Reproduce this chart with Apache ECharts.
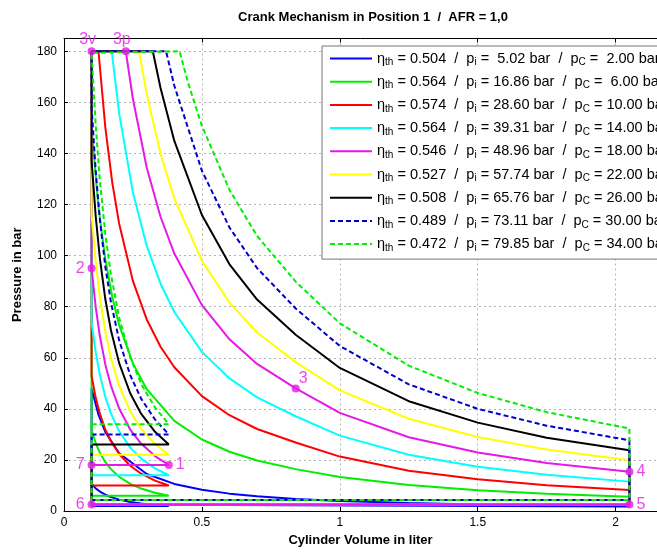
<!DOCTYPE html>
<html><head><meta charset="utf-8">
<script src="https://cdn.jsdelivr.net/npm/echarts@6/dist/echarts.min.js"></script>
<style>html,body{margin:0;padding:0;background:#fff}#c{width:657px;height:552px}</style>
</head><body><div id="c"></div>
<script>
// ---- legend values ----
const etaTh = ['0.504','0.564','0.574','0.564','0.546','0.527','0.508','0.489','0.472'];
const pI    = [' 5.02','16.86','28.60','39.31','48.96','57.74','65.76','73.11','79.85'];
const pCtxt = [' 2.00',' 6.00','10.00','14.00','18.00','22.00','26.00','30.00','34.00'];
const pC    = [2, 6, 10, 14, 18, 22, 26, 30, 34];
const colors = ['#0000ff','#00ee00','#ff0000','#00ffff','#e619e6','#ffff00','#000000','#0000cc','#00ee00'];
const dashed = [false,false,false,false,false,false,false,true,true];

// ---- volumes ----
const vMin = 0.10, vOne = 0.38, vMax = 2.05;

// ---- compression 1 -> 2 (pressure at compV) ----
const compV       = [0.38, 0.33, 0.28, 0.24, 0.20, 0.17, 0.15, 0.13, 0.115, 0.10];
const compBlue    = [2, 2.38, 2.93, 3.55, 4.45, 5.45, 6.37, 7.61, 8.87, 10.6];
const compGreen   = [6, 7.15, 8.78, 10.6, 13.4, 16.4, 19.1, 22.8, 26.6, 31.7];
const compRed     = [10, 11.9, 14.6, 17.7, 22.3, 27.3, 31.8, 38.1, 44.3, 52.8];
const compCyan    = [14, 16.7, 20.5, 24.8, 31.2, 38.2, 44.6, 53.3, 62.1, 73.9];
const compMagenta = [18, 21.5, 26.3, 31.9, 40.1, 49.1, 57.3, 68.5, 79.8, 95.0];
const compYellow  = [22, 26.2, 32.2, 39.0, 49.0, 60.0, 70.1, 83.7, 97.6, 116.1];
const compBlack   = [26, 31.0, 38.0, 46.1, 57.9, 70.9, 82.8, 99.0, 115.3, 137.2];
const compBlueD   = [30, 35.8, 43.9, 53.2, 66.8, 81.8, 95.5, 114.2, 133.0, 158.3];
const compGreenD  = [34, 40.5, 49.7, 60.3, 75.7, 92.7, 108.3, 129.4, 150.8, 179.4];

// ---- combustion + expansion 2 -> 3v -> 3p -> 3 -> 4 ([V, p]) ----
const expBlue    = [[0.1,48],[0.125,37.7],[0.15,30.9],[0.2,22.6],[0.3,14.5],[0.4,10.6],[0.5,8.3],[0.6,6.8],[0.7,5.8],[0.84,4.7],[1.0,3.9],[1.25,3.1],[1.5,2.5],[1.75,2.1],[2.05,1.8]];
const expGreen   = [[0.1,150],[0.125,118.9],[0.15,98.4],[0.175,83.8],[0.2,72.8],[0.25,57.8],[0.3,47.7],[0.4,35.3],[0.5,28.0],[0.6,23.2],[0.7,19.8],[0.84,16.4],[1.0,13.3],[1.25,10.2],[1.5,8.1],[1.75,6.8],[2.05,5.6]];
const expRed     = [[0.1,180],[0.125,180],[0.15,150],[0.175,128.6],[0.2,112.5],[0.25,90],[0.3,75],[0.35,64.3],[0.4,56.3],[0.5,45],[0.6,37.5],[0.7,32.1],[0.84,26.8],[1.0,21.3],[1.25,15.8],[1.5,12.4],[1.75,10.1],[2.05,8.2]];
const expCyan    = [[0.1,180],[0.173,180],[0.2,155.7],[0.25,124.6],[0.3,103.8],[0.35,89.0],[0.4,77.9],[0.5,62.3],[0.6,51.9],[0.7,44.5],[0.84,37.1],[1.0,29.5],[1.25,22.0],[1.5,17.3],[1.75,14.2],[2.05,11.5]];
const expMagenta = [[0.1,180],[0.224,180],[0.25,161.3],[0.3,134.4],[0.35,115.2],[0.4,100.8],[0.5,80.6],[0.6,67.2],[0.7,57.6],[0.84,48.0],[1.0,38.4],[1.25,28.9],[1.5,22.9],[1.75,18.8],[2.05,15.4]];
const expYellow  = [[0.1,180],[0.272,180],[0.3,163.2],[0.35,139.9],[0.4,122.4],[0.5,97.9],[0.6,81.6],[0.7,69.9],[0.84,58.3],[1.0,47.2],[1.25,36.1],[1.5,29.0],[1.75,24.1],[2.05,19.9]];
const expBlack   = [[0.1,180],[0.322,180],[0.35,165.6],[0.4,144.9],[0.5,115.9],[0.6,96.6],[0.7,82.8],[0.84,69.0],[1.0,56.0],[1.25,43.0],[1.5,34.6],[1.75,28.7],[2.05,23.8]];
const expBlueD   = [[0.1,180],[0.37,180],[0.4,166.5],[0.5,133.2],[0.6,111.0],[0.7,95.1],[0.84,79.3],[1.0,64.6],[1.25,49.6],[1.5,40.0],[1.75,33.4],[2.05,27.7]];
const expGreenD  = [[0.1,180],[0.419,180],[0.45,167.6],[0.5,150.8],[0.6,125.7],[0.7,107.7],[0.84,89.8],[1.0,73.5],[1.25,56.9],[1.5,46.2],[1.75,38.7],[2.05,32.3]];

// ---- exhaust pressure 5 -> 6 ----
const exhP = [2.5, 2.5, 2.5, 2.5, 2.5, 4.3, 4.3, 4.3, 4.3];

// ---- marked state points (magenta cycle) ----
const ptNames = ['1','2','3v','3p','3','4','5','6','7'];
const ptV     = [0.38, 0.10, 0.10, 0.224, 0.84, 2.05, 2.05, 0.10, 0.10];
const ptP     = [18, 95, 180, 180, 48, 15.4, 2.5, 2.5, 18];
const ptPos   = ['right','left','top','top','right','right','right','left','left'];

const compAll = [compBlue,compGreen,compRed,compCyan,compMagenta,compYellow,compBlack,compBlueD,compGreenD];
const expAll  = [expBlue,expGreen,expRed,expCyan,expMagenta,expYellow,expBlack,expBlueD,expGreenD];

function cyclePath(i) {
  const path = [[vMin, pC[i]], [vOne, pC[i]]];
  compV.forEach((v, k) => path.push([v, compAll[i][k]]));
  expAll[i].forEach(p => path.push(p));
  path.push([vMax, exhP[i]]);
  path.push([vMin, exhP[i]]);
  path.push([vMin, pC[i]]);
  return path;
}

const names = pC.map((_, i) => 'c' + i);
const series = names.map((n, i) => ({
  name: n, type: 'line', data: cyclePath(i), symbol: 'none', z: 2 + i * 0.01,
  lineStyle: { color: colors[i], width: 2, type: dashed[i] ? [5, 3] : 'solid' },
  itemStyle: { color: colors[i] }, animation: false
}));
series.push({
  type: 'scatter', z: 5, symbolSize: 8, itemStyle: { color: '#e619e6' }, animation: false,
  data: ptNames.map((n, i) => ({
    value: [ptV[i], ptP[i]], name: n,
    label: { show: true, formatter: n, position: ptPos[i], color: '#e619e6', fontSize: 16,
      fontFamily: 'Liberation Sans, Arial, sans-serif',
      offset: n === '3' ? [-4, -10] : (n === '3v' || n === '3p') ? [-4, 3] : [0, 0], distance: 3 }
  }))
});

const chart = echarts.init(document.getElementById('c'), null, { renderer: 'canvas' });
const FF = 'Liberation Sans, Arial, Helvetica, sans-serif';
chart.setOption({
  animation: false,
  backgroundColor: '#fff',
  title: { text: 'Crank Mechanism in Position 1  /  AFR = 1,0', left: 368, textAlign: 'center', top: 6,
    textStyle: { fontSize: 13, fontWeight: 'bold', fontFamily: FF, color: '#000' } },
  grid: { left: 64, top: 38.5, width: 593, height: 474.2, containLabel: false },
  legend: {
    data: names, orient: 'vertical', left: 322, top: 46, padding: [5, 6, 6, 7],
    backgroundColor: '#fff', borderColor: '#777', borderWidth: 1, itemGap: 6.7,
    itemWidth: 42, itemHeight: 14, selectedMode: false,
    itemStyle: { opacity: 0, borderWidth: 0 },
    formatter: function (name) {
      const i = names.indexOf(name);
      return '{a|η}{b|th}{a| = ' + etaTh[i] + '  /  p}{b|i}{a| = ' + pI[i] + ' bar  /  p}{b|C}{a| = ' + pCtxt[i] + ' bar}';
    },
    textStyle: { fontFamily: FF, color: '#000', rich: {
      a: { fontSize: 14.5, fontFamily: FF, lineHeight: 18, color: '#000' },
      b: { fontSize: 10, fontFamily: FF, lineHeight: 6, verticalAlign: 'bottom', color: '#000' }
    } }
  },
  xAxis: [{
    type: 'value', min: 0, max: 2.15, interval: 0.5,
    name: 'Cylinder Volume in liter', nameLocation: 'middle', nameGap: 23,
    nameTextStyle: { fontSize: 13, fontWeight: 'bold', fontFamily: FF, color: '#000' },
    axisLine: { show: true, lineStyle: { color: '#000', width: 1 } },
    axisTick: { show: true, inside: true, length: 4, lineStyle: { color: '#000' } },
    axisLabel: { fontSize: 12, fontFamily: FF, color: '#000', margin: 6, showMaxLabel: false,
      formatter: v => String(v) },
    splitLine: { show: true, lineStyle: { type: [2, 3], color: '#b4b4b4', width: 1 } }
  }, {
    type: 'value', min: 0, max: 2.15, interval: 0.5, position: 'top',
    axisLine: { show: true, lineStyle: { color: '#000', width: 1 } },
    axisTick: { show: true, inside: true, length: 4, lineStyle: { color: '#000' } },
    axisLabel: { show: false }, splitLine: { show: false }
  }],
  yAxis: [{
    type: 'value', min: 0, max: 185, interval: 20,
    name: 'Pressure in bar', nameLocation: 'middle', nameGap: 40, nameRotate: 90,
    nameTextStyle: { fontSize: 13, fontWeight: 'bold', fontFamily: FF, color: '#000' },
    axisLine: { show: true, lineStyle: { color: '#000', width: 1 } },
    axisTick: { show: true, inside: true, length: 4, lineStyle: { color: '#000' } },
    axisLabel: { fontSize: 12, fontFamily: FF, color: '#000', margin: 7, showMaxLabel: false },
    splitLine: { show: true, lineStyle: { type: [2, 3], color: '#b4b4b4', width: 1 } }
  }],
  series: series
});
</script></body></html>
